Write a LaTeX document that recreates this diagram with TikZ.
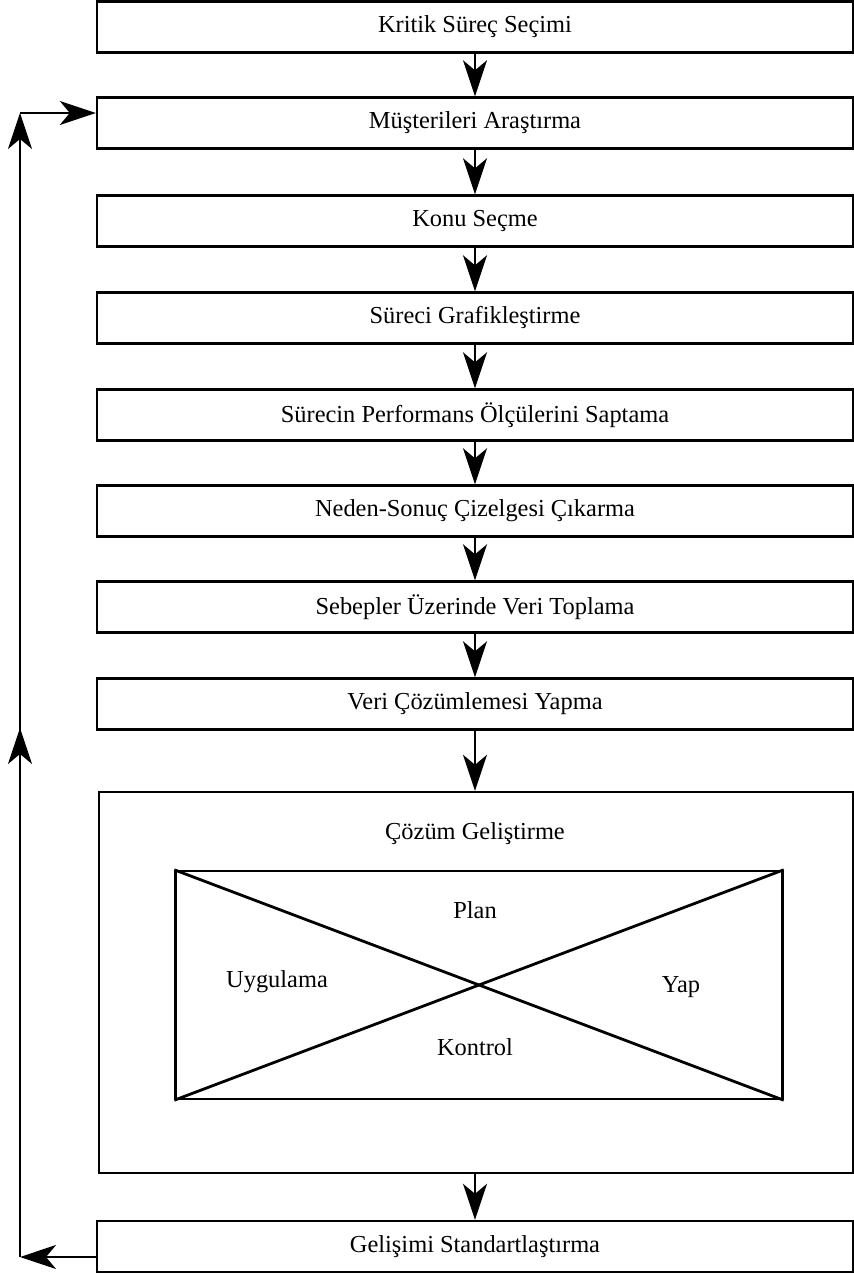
\documentclass[tikz,border=0pt]{standalone}
\usepackage{fontspec}
\setmainfont{Liberation Serif}
\usetikzlibrary{arrows.meta, positioning}

\begin{document}
\begin{tikzpicture}[
  x=0.5pt, y=-0.5pt,
  font=\fontsize{12.2}{14}\selectfont,
  adim/.style={draw, line width=1.2pt, minimum width=378pt,
               minimum height=25.5pt, inner sep=0pt, align=center},
  buyuk/.style={draw, line width=1.2pt, minimum width=377pt,
                minimum height=190.5pt, inner sep=0pt},
  pdca/.style={draw, line width=1.2pt, minimum width=303.5pt,
               minimum height=114pt, inner sep=0pt},
  arr/.style={-{Stealth[length=18pt, width=12pt, inset=5pt]}, line width=1pt},
  lbl/.style={inner sep=1pt}
]
\useasboundingbox (0,0) rectangle (854,1277);

%% ---- ana adimlar ----
\node[adim] (ksec)  at (475,  27) {Kritik Süreç Seçimi};
\node[adim] (mus)   at (475, 123) {Müşterileri Araştırma};
\node[adim] (konu)  at (475, 221) {Konu Seçme};
\node[adim] (graf)  at (475, 318) {Süreci Grafikleştirme};
\node[adim] (perf)  at (475, 415) {Sürecin Performans Ölçülerini Saptama};
\node[adim] (neden) at (475, 511) {Neden-Sonuç Çizelgesi Çıkarma};
\node[adim] (veri)  at (475, 607) {Sebepler Üzerinde Veri Toplama};
\node[adim] (coz)   at (475, 704) {Veri Çözümlemesi Yapma};

%% ---- çözüm geliştirme ----
\node[buyuk] (cgel) at (476, 982.5) {};
\node[lbl] (cgelb) at (475, 834) {Çözüm Geliştirme};
\node[pdca] (dongu) at (479, 985) {};
\draw[line width=1.4pt] (dongu.north west) -- (dongu.south east);
\draw[line width=1.4pt] (dongu.south west) -- (dongu.north east);
\node[lbl] (plan) at (475,  910) {Plan};
\node[lbl] (uyg)  at (277,  982) {Uygulama};
\node[lbl] (yap)  at (681,  987) {Yap};
\node[lbl] (kont) at (475, 1047) {Kontrol};

\node[adim] (std) at (475, 1246.5) {Gelişimi Standartlaştırma};

\draw[arr] (ksec)  -- (mus);
\draw[arr] (mus)   -- (konu);
\draw[arr] (konu)  -- (graf);
\draw[arr] (graf)  -- (perf);
\draw[arr] (perf)  -- (neden);
\draw[arr] (neden) -- (veri);
\draw[arr] (veri)  -- (coz);
\draw[arr] (coz)   -- (coz |- cgel.north);
\draw[arr] (cgel.south -| std) -- (std);

%% ---- geri besleme ----
\coordinate (galt) at (20, 1257);
\coordinate (gorta) at (20, 728);
\coordinate (gust) at (20, 113);
\draw[arr] (std.west |- galt) -- (galt);
\draw[line width=1pt] (galt) -- (gorta);
\draw[arr] ([yshift=-9pt]gorta) -- (gorta);
\draw[arr] (gorta) -- (gust);
\draw[arr] (gust) -- (gust -| mus.west);

\end{tikzpicture}
\end{document}
